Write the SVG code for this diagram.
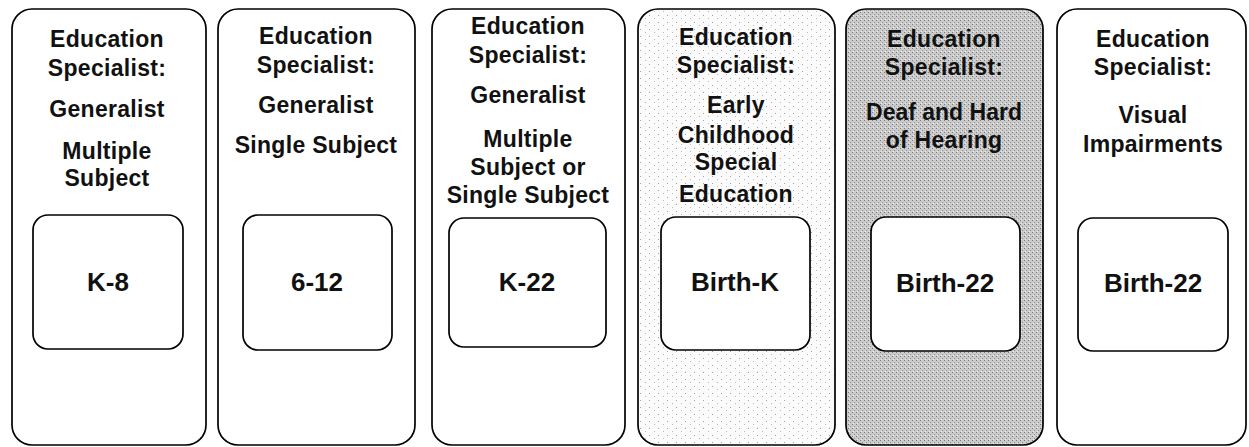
<svg xmlns="http://www.w3.org/2000/svg" width="1249" height="447" viewBox="0 0 1249 447">
<style>
.outer{stroke:#000;stroke-width:1.7;fill:#fff}
.inner{stroke:#000;stroke-width:1.7;fill:#fff}
.hd{font-family:"Liberation Sans",Arial,sans-serif;font-weight:bold;font-size:23px;fill:#111;text-anchor:middle;letter-spacing:0.3px}
.lb{font-family:"Liberation Sans",Arial,sans-serif;font-weight:bold;font-size:26px;fill:#111;text-anchor:middle}
</style>
<defs>
<pattern id="gray" width="4" height="4" patternUnits="userSpaceOnUse">
<rect width="4" height="4" fill="#cbcbcb"/>
<rect x="0" y="0" width="1" height="1" fill="#7a7a7a"/>
<rect x="2" y="2" width="1" height="1" fill="#8e8e8e"/>
<rect x="1" y="3" width="1" height="1" fill="#eeeeee"/>
</pattern>
<pattern id="sparse" width="9" height="7" patternUnits="userSpaceOnUse">
<rect width="9" height="7" fill="#fbfbfb"/>
<rect x="1" y="1" width="1" height="1" fill="#a0a0a0"/>
<rect x="6" y="4" width="1" height="1" fill="#b8b8b8"/>
</pattern>
</defs>
<rect width="1249" height="447" fill="#fff"/>

<g id="node1">
<rect class="outer" x="12" y="9" width="194" height="436" rx="20"/>
<text class="hd" x="107" y="47">Education</text>
<text class="hd" x="107" y="76">Specialist:</text>
<text class="hd" x="107" y="117">Generalist</text>
<text class="hd" x="107" y="159">Multiple</text>
<text class="hd" x="107" y="186">Subject</text>
<rect class="inner" x="33" y="215" width="150" height="134" rx="15"/>
<text class="lb" x="108" y="291">K-8</text>
</g>

<g id="node2">
<rect class="outer" x="218" y="9" width="197" height="436" rx="20"/>
<text class="hd" x="316" y="44">Education</text>
<text class="hd" x="316" y="73">Specialist:</text>
<text class="hd" x="316" y="113">Generalist</text>
<text class="hd" x="316" y="153">Single Subject</text>
<rect class="inner" x="243" y="215" width="149" height="135" rx="15"/>
<text class="lb" x="317" y="291">6-12</text>
</g>

<g id="node3">
<rect class="outer" x="432" y="9" width="193" height="436" rx="20"/>
<text class="hd" x="528" y="34">Education</text>
<text class="hd" x="528" y="63">Specialist:</text>
<text class="hd" x="528" y="103">Generalist</text>
<text class="hd" x="528" y="147">Multiple</text>
<text class="hd" x="528" y="175">Subject or</text>
<text class="hd" x="528" y="203">Single Subject</text>
<rect class="inner" x="449" y="218" width="157" height="129" rx="15"/>
<text class="lb" x="527" y="291">K-22</text>
</g>

<g id="node4">
<rect class="outer" x="638" y="9" width="197" height="436" rx="20" style="fill:url(#sparse)"/>
<text class="hd" x="736" y="45">Education</text>
<text class="hd" x="736" y="73">Specialist:</text>
<text class="hd" x="736" y="113">Early</text>
<text class="hd" x="736" y="143">Childhood</text>
<text class="hd" x="736" y="170">Special</text>
<text class="hd" x="736" y="202">Education</text>
<rect class="inner" x="661" y="217" width="149" height="133" rx="15"/>
<text class="lb" x="735" y="291">Birth-K</text>
</g>

<g id="node5">
<rect class="outer" x="846" y="9" width="197" height="436" rx="20" style="fill:url(#gray)"/>
<text class="hd" x="944" y="47">Education</text>
<text class="hd" x="944" y="75">Specialist:</text>
<text class="hd" x="944" y="120" style="letter-spacing:0">Deaf and Hard</text>
<text class="hd" x="944" y="148">of Hearing</text>
<rect class="inner" x="871" y="217" width="149" height="134" rx="15"/>
<text class="lb" x="945" y="292">Birth-22</text>
</g>

<g id="node6">
<rect class="outer" x="1057" y="9" width="189" height="436" rx="20"/>
<text class="hd" x="1153" y="47">Education</text>
<text class="hd" x="1153" y="75">Specialist:</text>
<text class="hd" x="1153" y="123">Visual</text>
<text class="hd" x="1153" y="152">Impairments</text>
<rect class="inner" x="1078" y="218" width="150" height="133" rx="15"/>
<text class="lb" x="1153" y="292">Birth-22</text>
</g>

<g id="connectors"></g>
</svg>
